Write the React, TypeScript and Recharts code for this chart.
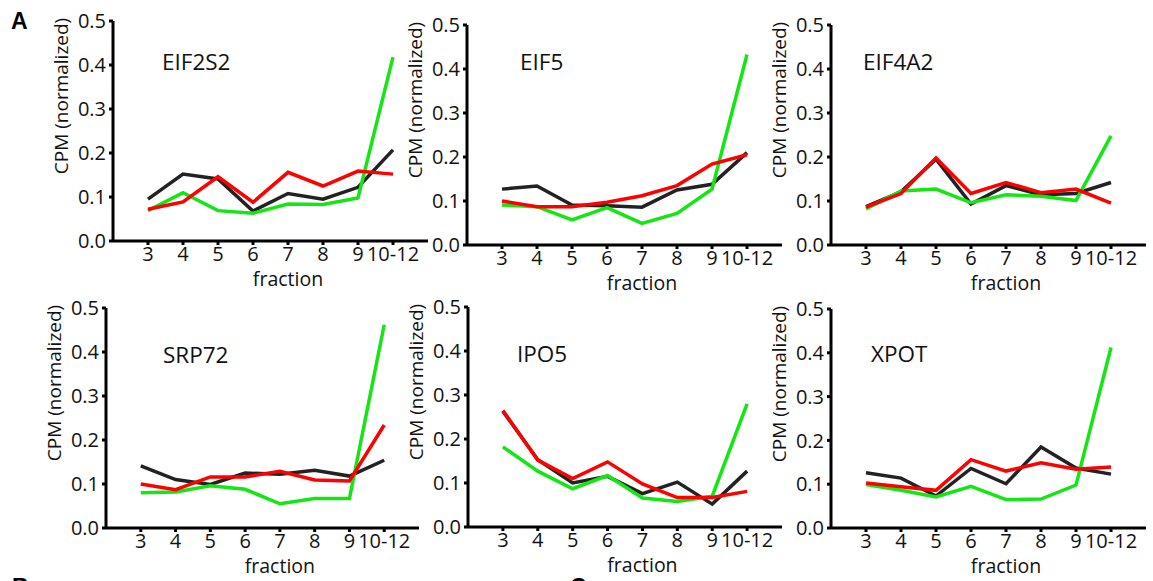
import React from 'react';
import { LineChart, Line, XAxis, YAxis } from 'recharts';

const fractions = [3, 4, 5, 6, 7, 8, 9, 10];
const xTickLabels = ['3', '4', '5', '6', '7', '8', '9', '10-12'];
const yTicks = [0, 0.1, 0.2, 0.3, 0.4, 0.5];

const eif2s2Black = [0.095, 0.152, 0.141, 0.068, 0.108, 0.095, 0.122, 0.207];
const eif2s2Red = [0.072, 0.089, 0.146, 0.088, 0.156, 0.125, 0.159, 0.152];
const eif2s2Green = [0.069, 0.11, 0.069, 0.063, 0.084, 0.083, 0.098, 0.418];

const eif5Black = [0.127, 0.134, 0.091, 0.089, 0.086, 0.125, 0.138, 0.21];
const eif5Red = [0.1, 0.087, 0.087, 0.097, 0.112, 0.135, 0.184, 0.205];
const eif5Green = [0.091, 0.087, 0.057, 0.085, 0.049, 0.072, 0.127, 0.433];

const eif4a2Black = [0.087, 0.121, 0.195, 0.093, 0.135, 0.114, 0.117, 0.142];
const eif4a2Red = [0.086, 0.117, 0.198, 0.117, 0.142, 0.119, 0.127, 0.095];
const eif4a2Green = [0.082, 0.123, 0.127, 0.096, 0.114, 0.111, 0.101, 0.248];

const srp72Black = [0.141, 0.11, 0.099, 0.125, 0.122, 0.131, 0.118, 0.154];
const srp72Red = [0.1, 0.087, 0.116, 0.116, 0.129, 0.109, 0.107, 0.234];
const srp72Green = [0.08, 0.082, 0.096, 0.088, 0.055, 0.067, 0.067, 0.462];

const ipo5Black = [0.263, 0.153, 0.1, 0.115, 0.076, 0.102, 0.052, 0.127];
const ipo5Red = [0.265, 0.152, 0.11, 0.148, 0.098, 0.067, 0.067, 0.081];
const ipo5Green = [0.182, 0.127, 0.087, 0.117, 0.066, 0.058, 0.07, 0.28];

const xpotBlack = [0.126, 0.114, 0.073, 0.136, 0.101, 0.185, 0.137, 0.123];
const xpotRed = [0.103, 0.094, 0.086, 0.156, 0.13, 0.149, 0.134, 0.139];
const xpotGreen = [0.099, 0.086, 0.071, 0.095, 0.065, 0.066, 0.098, 0.412];

const FONT = '"Open Sans", "Noto Sans", sans-serif';
const BLACK = '#222222';
const RED = '#ff0000';
const GREEN = '#14e614';

type Spec = {
  title: string;
  black: number[];
  red: number[];
  green: number[];
  axisX: number;
  yTop: number;
  yBot: number;
  xRight: number;
  titleX: number;
  titleY: number;
};

const panels: Spec[] = [
  { title: 'EIF2S2', black: eif2s2Black, red: eif2s2Red, green: eif2s2Green, axisX: 113, yTop: 21, yBot: 241, xRight: 428, titleX: 162, titleY: 70 },
  { title: 'EIF5', black: eif5Black, red: eif5Red, green: eif5Green, axisX: 467, yTop: 25, yBot: 245, xRight: 782, titleX: 520, titleY: 70 },
  { title: 'EIF4A2', black: eif4a2Black, red: eif4a2Red, green: eif4a2Green, axisX: 831, yTop: 25, yBot: 245, xRight: 1146, titleX: 863, titleY: 70 },
  { title: 'SRP72', black: srp72Black, red: srp72Red, green: srp72Green, axisX: 106, yTop: 308, yBot: 528, xRight: 419, titleX: 163, titleY: 363 },
  { title: 'IPO5', black: ipo5Black, red: ipo5Red, green: ipo5Green, axisX: 468, yTop: 307, yBot: 527, xRight: 782, titleX: 517, titleY: 362 },
  { title: 'XPOT', black: xpotBlack, red: xpotRed, green: xpotGreen, axisX: 831, yTop: 309, yBot: 528, xRight: 1146, titleX: 871, titleY: 362 },
];

const LEFT = 100;
const TOP = 15;
const RIGHT = 15;
const BOTTOM = 60;

function Panel({ spec }: { spec: Spec }) {
  const rows = fractions.map((f, i) => ({
    fraction: f,
    black: spec.black[i],
    red: spec.red[i],
    green: spec.green[i],
  }));
  const plotW = spec.xRight - spec.axisX;
  const plotH = spec.yBot - spec.yTop;
  const W = LEFT + plotW + RIGHT;
  const H = TOP + plotH + BOTTOM;
  const x0 = spec.axisX - LEFT;
  const y0 = spec.yTop - TOP;
  const step = plotW / 9;
  return (
    <div style={{ position: 'absolute', left: x0, top: y0, width: W, height: H }}>
      <LineChart width={W} height={H} data={rows} margin={{ top: TOP, right: RIGHT, bottom: 0, left: 0 }}>
        <XAxis
          dataKey="fraction"
          type="number"
          domain={[2, 11]}
          ticks={fractions}
          interval={0}
          allowDataOverflow
          tickFormatter={(v: number) => xTickLabels[fractions.indexOf(v)] ?? ''}
          height={BOTTOM}
          axisLine={{ stroke: '#000', strokeWidth: 3 }}
          tickLine={{ stroke: '#000', strokeWidth: 3 }}
          tickSize={4}
          tickMargin={2}
          tick={{ fill: '#111', fontSize: 20, fontFamily: FONT }}
        />
        <YAxis
          type="number"
          domain={[0, 0.5]}
          ticks={yTicks}
          interval={0}
          width={LEFT}
          tickFormatter={(v: number) => v.toFixed(1)}
          axisLine={{ stroke: '#000', strokeWidth: 3 }}
          tickLine={{ stroke: '#000', strokeWidth: 3 }}
          tickSize={4}
          tickMargin={3}
          tick={{ fill: '#111', fontSize: 20, fontFamily: FONT }}
        />
        <Line type="linear" dataKey="black" stroke={BLACK} strokeWidth={3.5} dot={false} isAnimationActive={false} />
        <Line type="linear" dataKey="green" stroke={GREEN} strokeWidth={3.5} dot={false} isAnimationActive={false} />
        <Line type="linear" dataKey="red" stroke={RED} strokeWidth={3.5} dot={false} isAnimationActive={false} />
      </LineChart>
      <svg width={W} height={H} style={{ position: 'absolute', left: 0, top: 0, pointerEvents: 'none', overflow: 'visible' }}>
        <text x={spec.titleX - x0} y={spec.titleY - y0} fontFamily={FONT} fontSize={22.5} fill="#111">
          {spec.title}
        </text>
        <text
          transform={`translate(${LEFT - 45}, ${TOP + 75}) rotate(-90)`}
          textAnchor="middle"
          fontFamily={FONT}
          fontSize={19}
          fill="#111"
        >
          CPM (normalized)
        </text>
        <text x={LEFT + 5 * step} y={TOP + plotH + 45} textAnchor="middle" fontFamily={FONT} fontSize={19.5} fill="#111">
          fraction
        </text>
      </svg>
    </div>
  );
}

export default function App() {
  return (
    <div style={{ position: 'absolute', left: 0, top: 0, width: 1153, height: 581, overflow: 'hidden', background: '#fff' }}>
      {panels.map((p) => (
        <Panel key={p.title} spec={p} />
      ))}
      <svg width={1153} height={581} style={{ position: 'absolute', left: 0, top: 0, pointerEvents: 'none' }}>
        <text x={11} y={29} fontFamily='"Liberation Sans", Arial, sans-serif' fontWeight="bold" fontSize={23} fill="#000">A</text>
        <text x={12} y={595} fontFamily='"Liberation Sans", Arial, sans-serif' fontWeight="bold" fontSize={23} fill="#000">B</text>
        <text x={570} y={595} fontFamily='"Liberation Sans", Arial, sans-serif' fontWeight="bold" fontSize={23} fill="#000">C</text>
      </svg>
    </div>
  );
}
